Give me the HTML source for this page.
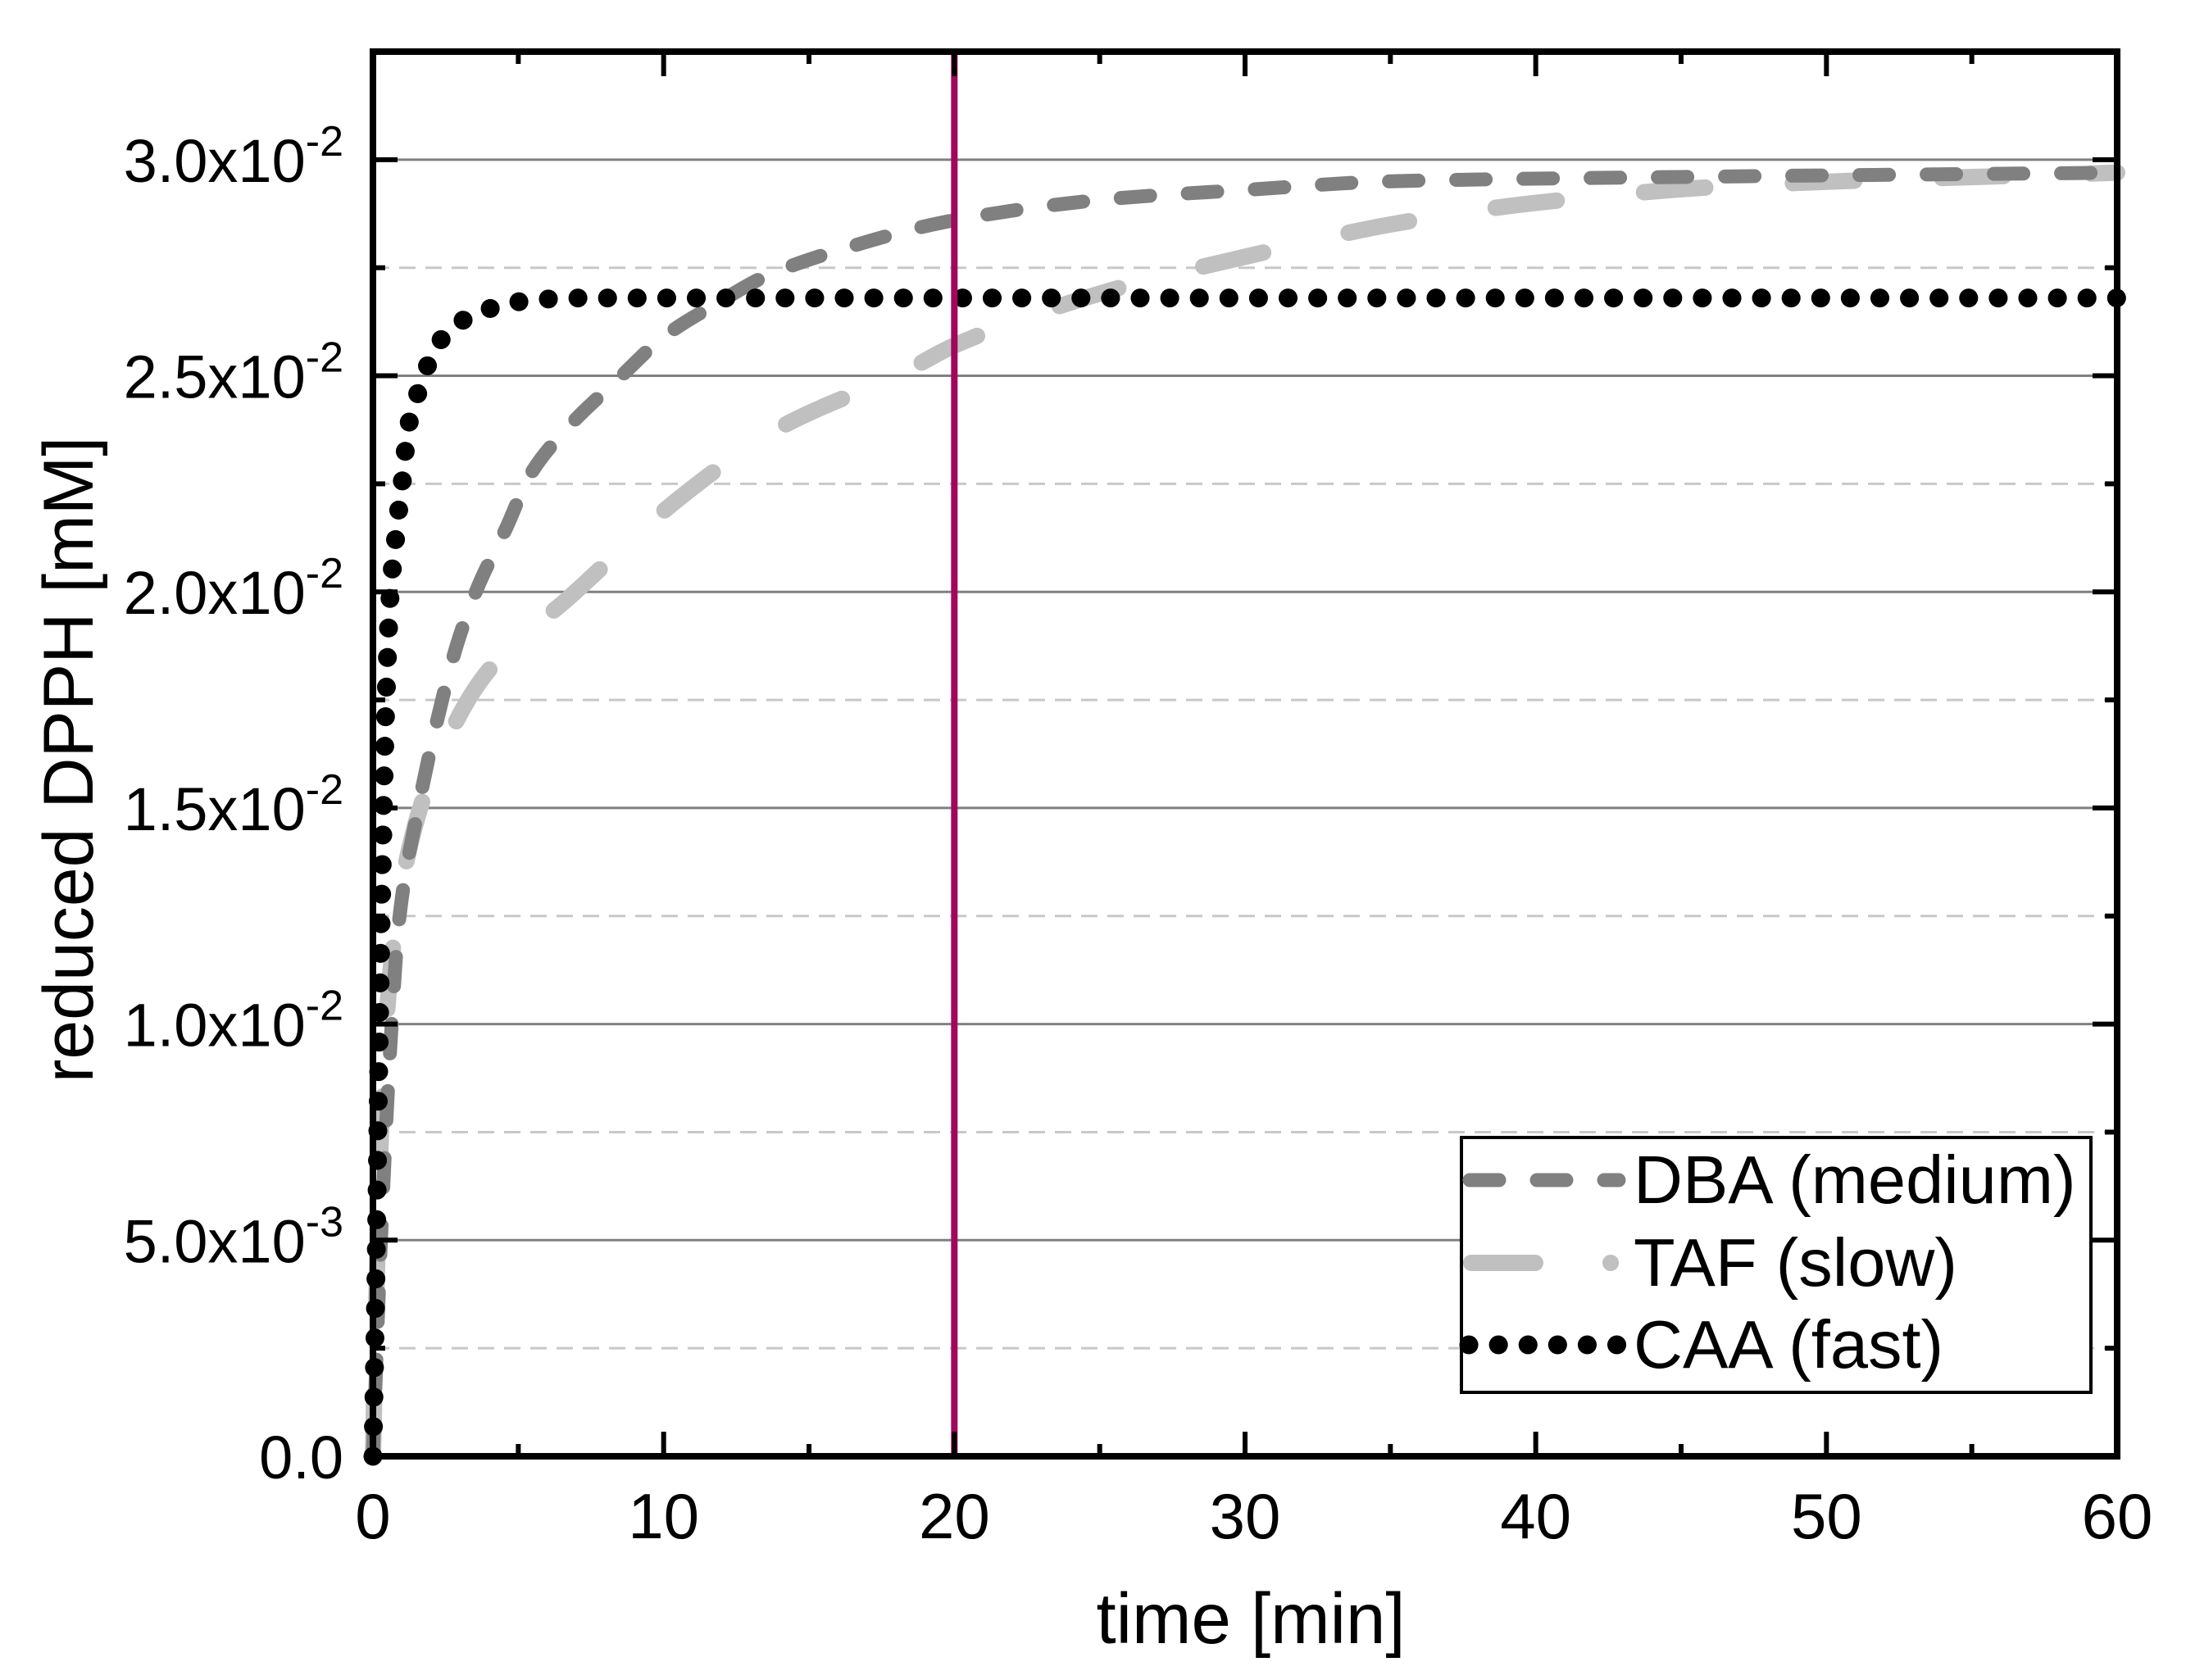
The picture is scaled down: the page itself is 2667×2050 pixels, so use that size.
<!DOCTYPE html>
<html><head><meta charset="utf-8"><style>
html,body{margin:0;padding:0;background:#fff;}
svg{display:block;font-family:"Liberation Sans",Arial,sans-serif;}
</style></head><body>
<svg id="chart" width="2667" height="2050" viewBox="0 0 2667 2050" xmlns="http://www.w3.org/2000/svg">
<g id="grid"></g>
<g id="series"></g>
<g id="axes"></g>
<g id="legend">
  <rect x="1783" y="1388" width="768" height="311" fill="#fff" stroke="#000" stroke-width="4"/>
  <g>
    <line x1="1793" y1="1440" x2="1975" y2="1440" stroke="#808080" stroke-width="17" stroke-linecap="round" stroke-dasharray="36 46"/>
    <text x="1993" y="1468" font-size="83">DBA (medium)</text>
  </g>
  <g>
    <line x1="1795" y1="1541" x2="1975" y2="1541" stroke="#c0c0c0" stroke-width="20" stroke-linecap="round" stroke-dasharray="78 92 0.1 200"/>
    <text x="1993" y="1569" font-size="83">TAF (slow)</text>
  </g>
  <g>
    <line x1="1792" y1="1641" x2="1975" y2="1641" stroke="#000" stroke-width="23" stroke-linecap="round" stroke-dasharray="0.1 36"/>
    <text x="1993" y="1669" font-size="83">CAA (fast)</text>
  </g>
</g>
<text x="1526" y="2005" font-size="87" text-anchor="middle">time [min]</text>
<text transform="translate(113,927) rotate(-90)" font-size="86" text-anchor="middle">reduced DPPH [mM]</text>
</svg>
<script>
const xTicks = [0, 10, 20, 30, 40, 50, 60];
const yTicks = [0, 0.005, 0.01, 0.015, 0.02, 0.025, 0.03];
const yTickMain = ["0.0", "5.0x10", "1.0x10", "1.5x10", "2.0x10", "2.5x10", "3.0x10"];
const yTickExp = ["", "-3", "-2", "-2", "-2", "-2", "-2"];
const markerTime = 20;

const dbaT = [0,0.25,0.6,0.9,1.5,2.2,2.9,3.6,4.6,5.4,6.7,8.4,10,11.9,13.5,16,20,25.5,30,35,45,60];
const dbaV = [0,0.0046,0.0095,0.0124,0.0148,0.0170,0.0188,0.0201,0.0215,0.0227,0.0238,0.0249,0.0259,0.0267,0.0273,0.0279,0.0286,0.0291,0.0293,0.0295,0.0296,0.0297];
const tafT = [0,0.15,0.4,1.1,2.5,4,6.8,10.6,14,18.3,20,25.5,30.3,35,40,47,60];
const tafV = [0,0.0046,0.0095,0.0136,0.0165,0.0182,0.0199,0.0222,0.0238,0.0251,0.0257,0.0270,0.0278,0.0285,0.0290,0.0294,0.0297];
const caaT = [0,0.1,0.2,0.3,0.45,0.6,0.76,0.87,1.0,1.21,1.5,1.8,2.2,2.9,3.8,4.85,7,60];
const caaV = [0,0.004,0.009,0.013,0.0175,0.0200,0.0211,0.0218,0.0225,0.0238,0.0245,0.0251,0.0257,0.0262,0.0265,0.0267,0.0268,0.0268];

const X0=455, X1=2583, Y0=1777, Y1=63, XMAX=60, YMAX=0.0325;
const sx = t => X0 + (t/XMAX)*(X1-X0);
const sy = v => Y0 - (v/YMAX)*(Y0-Y1);
const NS = "http://www.w3.org/2000/svg";
function mk(tag, attrs, parent){ const e=document.createElementNS(NS,tag); for(const k in attrs) e.setAttribute(k,attrs[k]); parent.appendChild(e); return e; }
const grid=document.getElementById('grid'), axes=document.getElementById('axes'), series=document.getElementById('series');

for(let i=0;i<yTicks.length;i++){
  const v=yTicks[i]+0.0025;
  if(v<YMAX){
    const l=mk('line',{x1:X0,x2:X1,y1:sy(v),y2:sy(v),stroke:'#c8c8c8','stroke-width':3,'stroke-dasharray':'20 12'},grid);
    
    
  }
  if(yTicks[i]>0){
    const g=mk('line',{x1:X0,x2:X1,y1:sy(yTicks[i]),y2:sy(yTicks[i]),stroke:'#808080','stroke-width':3},grid);
    
    
  }
}

function smoothPath(ts, vs){
  const n=ts.length, d=[], m=new Array(n).fill(0);
  for(let i=0;i<n-1;i++) d.push((vs[i+1]-vs[i])/(ts[i+1]-ts[i]));
  m[0]=d[0]; m[n-1]=d[n-2];
  for(let i=1;i<n-1;i++){
    if(d[i-1]*d[i]<=0) m[i]=0;
    else { const w1=2*(ts[i+1]-ts[i])+(ts[i]-ts[i-1]), w2=(ts[i+1]-ts[i])+2*(ts[i]-ts[i-1]); m[i]=(w1+w2)/(w1/d[i-1]+w2/d[i]); }
  }
  let path=`M${sx(ts[0])},${sy(vs[0])}`;
  for(let i=0;i<n-1;i++){
    const h=ts[i+1]-ts[i];
    const c1t=ts[i]+h/3, c1v=vs[i]+m[i]*h/3, c2t=ts[i+1]-h/3, c2v=vs[i+1]-m[i+1]*h/3;
    path+=` C${sx(c1t)},${sy(c1v)} ${sx(c2t)},${sy(c2v)} ${sx(ts[i+1])},${sy(vs[i+1])}`;
  }
  return path;
}
const taf=mk('path',{d:smoothPath(tafT,tafV),fill:'none',stroke:'#c0c0c0','stroke-width':20,'stroke-linecap':'round','stroke-dasharray':'75 107'},series);


const dba=mk('path',{d:smoothPath(dbaT,dbaV),fill:'none',stroke:'#808080','stroke-width':17,'stroke-linecap':'round','stroke-dasharray':'36 46'},series);


const caa=mk('path',{d:smoothPath(caaT,caaV),fill:'none',stroke:'#000','stroke-width':23,'stroke-linecap':'round','stroke-dasharray':'0.1 36'},series);



const vl=mk('line',{x1:sx(markerTime),x2:sx(markerTime),y1:Y1,y2:Y0,stroke:'#a0085c','stroke-width':8},series);



const fr=mk('rect',{x:X0,y:Y1,width:X1-X0,height:Y0-Y1,fill:'none',stroke:'#000','stroke-width':8},axes);



for(let t=0;t<=XMAX;t+=5){
  const major=(t%10===0), len=major?30:15, x=sx(t);
  const b=mk('line',{x1:x,x2:x,y1:Y0,y2:Y0-len,stroke:'#000','stroke-width':6},axes);
  
  
  const tp=mk('line',{x1:x,x2:x,y1:Y1,y2:Y1+len,stroke:'#000','stroke-width':6},axes);
  
  
}
for(let i=0;i<xTicks.length;i++){
  const tx=mk('text',{x:sx(xTicks[i]),y:1877,'font-size':78,'text-anchor':'middle'},axes);
  tx.textContent=xTicks[i];
  
  
}
for(let v=0;v<YMAX;v+=0.0025){
  const major=Math.abs((v/0.005)-Math.round(v/0.005))<1e-6, len=major?30:15, y=sy(v);
  const l=mk('line',{x1:X0,x2:X0+len,y1:y,y2:y,stroke:'#000','stroke-width':6},axes);
  
  
  const r=mk('line',{x1:X1,x2:X1-len,y1:y,y2:y,stroke:'#000','stroke-width':6},axes);
  
  
}
for(let i=0;i<yTicks.length;i++){
  const tx=mk('text',{x:419,y:sy(yTicks[i])+27,'font-size':74,'text-anchor':'end'},axes);
  
  
  const m=document.createElementNS(NS,'tspan'); m.textContent=yTickMain[i]; tx.appendChild(m);
  if(yTickExp[i]){
    const s=document.createElementNS(NS,'tspan');
    s.setAttribute('font-size','52'); s.setAttribute('dy','-32');
    s.textContent=yTickExp[i]; tx.appendChild(s);
  }
}
</script>
</body></html>
